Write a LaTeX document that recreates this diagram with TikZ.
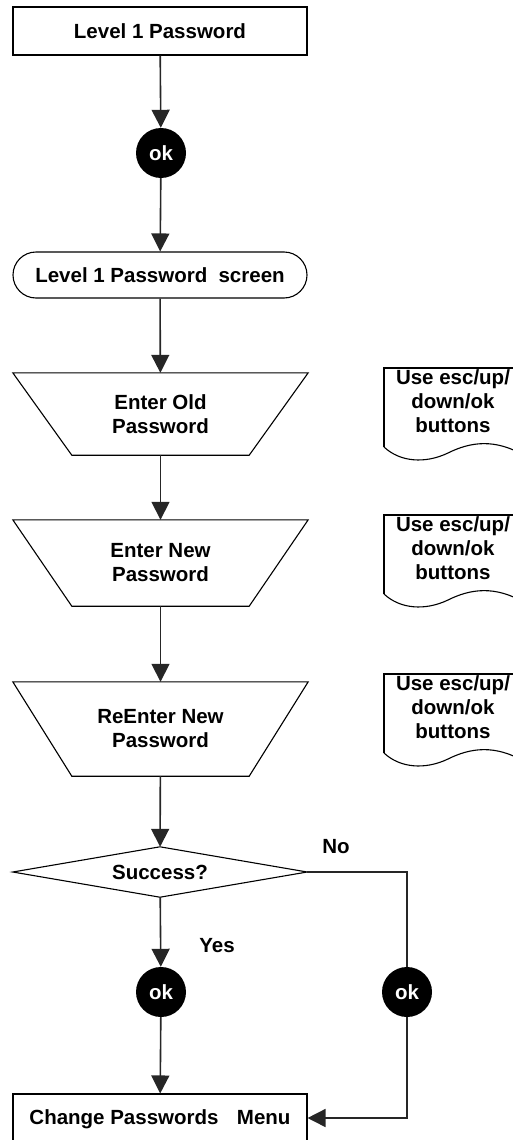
\documentclass[tikz,border=0pt]{standalone}
\usepackage{fontspec}
\setmainfont{Liberation Sans}
\usetikzlibrary{arrows.meta,calc}
\tikzset{
  lbl/.style={font=\bfseries\fontsize{20.5}{24}\selectfont, align=center, inner sep=0pt},
  box/.style={draw=black, line width=1.1pt, rectangle, minimum width=294pt, inner sep=0pt, lbl},
  term/.style={box, rounded corners=23pt},
  okc/.style={circle, fill=black, minimum size=50pt, inner sep=0pt, text=white, lbl},
  frame/.style={rectangle, minimum width=295pt, inner sep=0pt, lbl},
  outline/.style={draw=black, line width=1.1pt},
  conn/.style={draw=black!85, line width=1.6pt, -{Triangle[length=18pt,width=18pt]}},
  plain/.style={draw=black!85, line width=1.6pt},
}
\begin{document}
\begin{tikzpicture}[x=1pt,y=-1pt]
\useasboundingbox (0,0) rectangle (513,1140);
\clip (0,0) rectangle (513,1140);
% nodes
\node[box, minimum height=48pt] (b1) at (160,31) {Level 1 Password};
\node[okc] (ok1) at (161,153) {ok};
\node[term, minimum height=46pt] (term) at (160,275) {Level 1 Password\hspace{0.55em}screen};
\node[frame, minimum height=82pt] (t1) at (160.5,414) {Enter Old\\Password};
\node[frame, minimum height=86pt] (t2) at (160.5,563) {Enter New\\Password};
\node[frame, minimum height=94pt] (t3) at (160.5,729) {ReEnter New\\Password};
\node[frame, minimum width=294pt, minimum height=50pt] (d1) at (160,872) {Success?};
\node[okc] (ok2) at (161,992) {ok};
\node[okc] (ok3) at (407,992) {ok};
\node[box, minimum height=50pt] (b2) at (160,1119) {Change Passwords\hspace{0.9em}Menu};
\node[lbl] (no) at (336,847) {No};
\node[lbl] (yes) at (217,946) {Yes};
% trapezoids
\foreach \t in {t1,t2,t3}{
  \draw[outline] (\t.north west) -- (\t.north east) -- ($(\t.south east)+(-59,0)$) -- ($(\t.south west)+(59,0)$) -- cycle;
}
% diamond
\draw[outline] (d1.north) -- (d1.east) -- (d1.south) -- (d1.west) -- cycle;
% documents
\foreach \top/\n in {368/doc1,515/doc2,674/doc3}{
  \node[lbl] (\n) at (453,\top+33) {Use esc/up/\\down/ok\\buttons};
  \draw[outline] (384,\top+79) -- (384,\top) -- (530,\top);
  \draw[outline] (384,\top+79) .. controls (400,\top+94) and (425,\top+96) .. (448,\top+85) .. controls (470,\top+74) and (495,\top+70) .. (525,\top+88);
}
% connectors
\coordinate (c1) at (407,872);
\coordinate (c2) at (407,1118);
\draw[conn] (b1) -- (ok1);
\draw[conn] (ok1) -- (term);
\draw[conn] (term) -- (t1);
\draw[conn] (t1) -- (t2);
\draw[conn] (t2) -- (t3);
\draw[conn] (t3) -- (d1);
\draw[conn] (d1) -- (ok2);
\draw[conn] (ok2) -- (b2);
\draw[plain] (d1.east) -- (c1) -- (ok3);
\draw[conn] (ok3) -- (c2) -- (b2.east |- c2);
\end{tikzpicture}
\end{document}
